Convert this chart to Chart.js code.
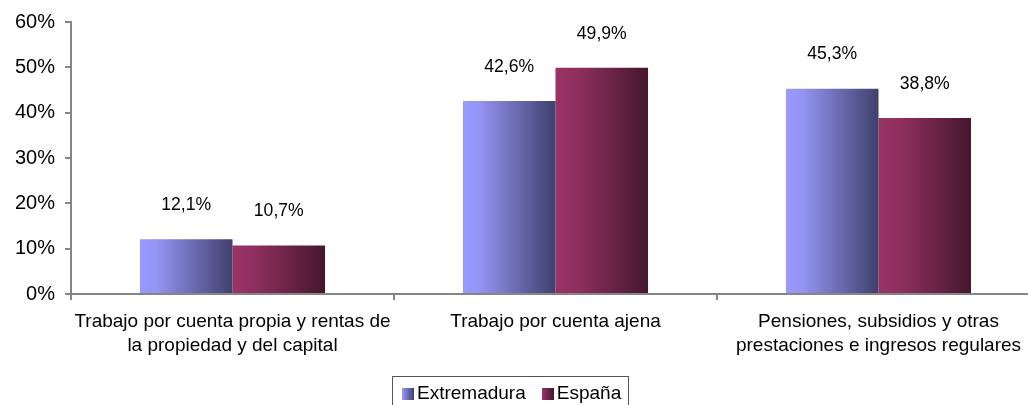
<!DOCTYPE html>
<html>
<head>
<meta charset="utf-8">
<script src="https://cdn.jsdelivr.net/npm/chart.js@4/dist/chart.umd.min.js"></script>
<style>
  html, body { margin: 0; padding: 0; background: #fff; }
  body { width: 1028px; height: 405px; overflow: hidden; position: relative; font-family: Arial, "Liberation Sans", sans-serif; }
  #wrap { position: absolute; left: 0; top: 0; width: 1060px; height: 405px; }
  #legend {
    position: absolute; left: 392px; top: 376px; width: 237px; height: 36px;
    border: 1px solid #555; box-sizing: border-box;
    font-size: 19px; color: #000; display: flex; align-items: flex-start; padding: 5px 0 0 9px;
  }
  #legend span.sw { display: inline-block; flex: 0 0 12px; width: 12px; height: 12px; margin: 6px 3px 0 0; }
  #legend span.lb { margin-right: 16px; line-height: 22px; white-space: nowrap; }
</style>
</head>
<body>
<div id="wrap"><canvas id="myChart" width="1060" height="405"></canvas></div>
<div id="legend"></div>
<script>
var categories = [
  ["Trabajo por cuenta propia y rentas de", "la propiedad y del capital"],
  "Trabajo por cuenta ajena",
  ["Pensiones, subsidios y otras", "prestaciones e ingresos regulares"]
];
var extremadura = [12.1, 42.6, 45.3];
var espana = [10.7, 49.9, 38.8];
var yTicks = [0, 10, 20, 30, 40, 50, 60];

// colour stops for the horizontal shading of each series
var shades = [
  [[0, "#9999ff"], [0.18, "#9494f4"], [1, "#3f406c"]],
  [[0, "#993366"], [0.25, "#8e2f5e"], [1, "#45172e"]]
];

function pct(v) {
  return v.toFixed(1).replace(".", ",") + "%";
}

// shade every bar from its left edge to its right edge
var barShading = {
  id: "barShading",
  beforeDatasetsDraw: function (chart) {
    var ctx = chart.ctx;
    chart.data.datasets.forEach(function (ds, i) {
      chart.getDatasetMeta(i).data.forEach(function (el) {
        var g = ctx.createLinearGradient(el.x - el.width / 2, 0, el.x + el.width / 2, 0);
        shades[i].forEach(function (s) { g.addColorStop(s[0], s[1]); });
        el.options = Object.assign({}, el.options, { backgroundColor: g });
      });
    });
  }
};

// value labels above the bars
var valueLabels = {
  id: "valueLabels",
  afterDatasetsDraw: function (chart) {
    var ctx = chart.ctx;
    ctx.save();
    ctx.font = "17.6px Arial, 'Liberation Sans', sans-serif";
    ctx.fillStyle = "#000";
    ctx.textAlign = "center";
    ctx.textBaseline = "middle";
    chart.data.datasets.forEach(function (ds, i) {
      chart.getDatasetMeta(i).data.forEach(function (el, j) {
        ctx.fillText(pct(ds.data[j]), el.x, el.y - 34);
      });
    });
    ctx.restore();
  }
};

var ctx = document.getElementById("myChart").getContext("2d");
var chart = new Chart(ctx, {
  type: "bar",
  data: {
    labels: categories,
    datasets: [
      { label: "Extremadura", data: extremadura, backgroundColor: shades[0][0][1], categoryPercentage: 0.573, barPercentage: 1 },
      { label: "España", data: espana, backgroundColor: shades[1][0][1], categoryPercentage: 0.573, barPercentage: 1 }
    ]
  },
  options: {
    responsive: false,
    animation: false,
    layout: { padding: { top: 21, right: 20, left: 0, bottom: 0 } },
    plugins: { legend: { display: false }, tooltip: { enabled: false } },
    scales: {
      x: {
        grid: { offset: true, drawOnChartArea: false, drawTicks: true, tickLength: 6, color: "#868686", lineWidth: 2 },
        border: { color: "#868686", width: 2 },
        ticks: {
          color: "#000", font: { family: "Arial, 'Liberation Sans', sans-serif", size: 19, lineHeight: 1.3 },
          maxRotation: 0, autoSkip: false, padding: 9
        },
        afterFit: function (scale) { scale.height = 111; }
      },
      y: {
        min: 0, max: 60,
        afterBuildTicks: function (scale) {
          scale.ticks = yTicks.map(function (v) { return { value: v }; });
        },
        grid: { drawOnChartArea: false, drawTicks: true, tickLength: 6, color: "#868686", lineWidth: 2 },
        border: { color: "#868686", width: 2 },
        ticks: {
          color: "#000", font: { family: "Arial, 'Liberation Sans', sans-serif", size: 20 },
          padding: 10,
          callback: function (v) { return v + "%"; }
        },
        afterFit: function (scale) { scale.width = 71; }
      }
    }
  },
  plugins: [barShading, valueLabels]
});

// legend below the chart
var legend = document.getElementById("legend");
chart.data.datasets.forEach(function (ds, i) {
  var sw = document.createElement("span");
  sw.className = "sw";
  sw.style.background = "linear-gradient(to right, " + shades[i][0][1] + ", " + shades[i][2][1] + ")";
  var lb = document.createElement("span");
  lb.className = "lb";
  lb.textContent = ds.label;
  legend.appendChild(sw);
  legend.appendChild(lb);
});
</script>
</body>
</html>
